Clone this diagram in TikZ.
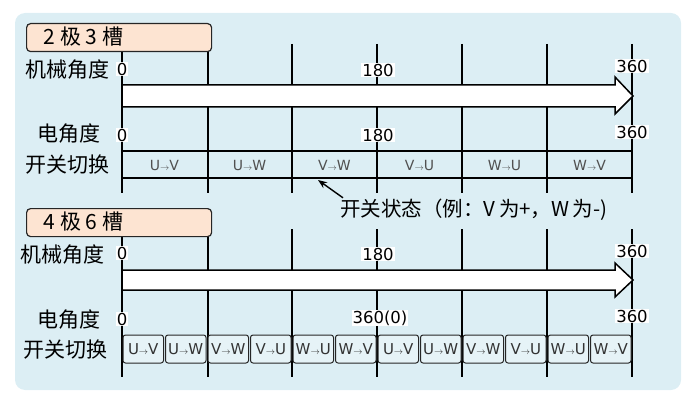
\documentclass[tikz,border=0pt]{standalone}
\usepackage{fontspec}
\setmainfont{DejaVu Sans}
\newfontfamily\cjk{Noto Sans CJK SC}
\usetikzlibrary{arrows.meta}

\definecolor{panelblue}{HTML}{DCEEF4}
\definecolor{tagpeach}{HTML}{FDE4D2}
\definecolor{swgray}{HTML}{505050}

\newcommand{\sw}[2]{#1{\fontsize{9}{9}\selectfont$\rightarrow$}#2}

\begin{document}
\begin{tikzpicture}[x=1pt,y=-1pt,thick,
  rowlabel/.style={font=\cjk\fontsize{21}{21}\selectfont,inner sep=0},
  anglabel/.style={font=\fontsize{16.5}{16.5}\selectfont,fill=white,inner sep=1pt},
  tagbox/.style={draw=black!85,line width=1.2pt,fill=tagpeach,rounded corners=4pt,
    minimum width=185pt,minimum height=28pt,anchor=north west,inner sep=0},
  grid/.style={line width=1.6pt,black},
  swtext/.style={font=\fontsize{14}{14}\selectfont,text=swgray},
  swbox/.style={draw=black!85,line width=1pt,fill=panelblue!70!white,rounded corners=2.5pt,
    minimum width=40.5pt,minimum height=28pt,inner sep=0,font=\fontsize{15}{15}\selectfont,text=black!80}]

\useasboundingbox (0,0) rectangle (699,409);

\fill [panelblue,rounded corners=10pt] (15,13) rectangle (681,390);

% ---- 2 poles, 3 slots ----
\foreach \x in {122,208} \draw [grid] (\x,52) -- (\x,193);
\foreach \x in {292,377,462,547,632} \draw [grid] (\x,44) -- (\x,193);

\node [tagbox] (tagA) at (26,23) {};
\node [font=\cjk\fontsize{21}{21}\selectfont,anchor=west] (tagAtext) at (40,37) {2 极 3 槽};

\draw [line width=1.5pt,fill=white,line join=miter]
  (122,85) -- (615,85) -- (615,77) -- (633,96) -- (615,114) -- (615,107) -- (122,107) -- cycle;

\node [rowlabel,anchor=east] (mechA) at (110,70) {机械角度};
\node [rowlabel,anchor=east] (elecA) at (101,134) {电角度};
\node [rowlabel,anchor=east] (switchA) at (110,165) {开关切换};

\node [anglabel] (mA0) at (122,69) {0};
\node [anglabel] (mA180) at (378,70) {180};
\node [anglabel] (mA360) at (632,66) {360};
\node [anglabel] (eA0) at (122,135) {0};
\node [anglabel] (eA180) at (378,135) {180};
\node [anglabel] (eA360) at (632,132) {360};

\draw [grid] (122,151) -- (632,151);
\draw [grid] (122,178) -- (632,178);

\foreach \a/\b [count=\i] in {U/V,U/W,V/W,V/U,W/U,W/V}
  \node [swtext] (swA\i) at (79.5+85*\i,165) {\sw{\a}{\b}};

\coordinate (noteTip) at (318,180);
\node [font=\cjk\fontsize{20.5}{20.5}\selectfont,anchor=west,inner sep=0] (note) at (340,210)
  {开关状态（例：V\,为+，W\,为-)};
\draw [-{Stealth[length=9pt,width=7pt]},line width=1.4pt] ([xshift=3pt,yshift=1pt]note.north west) -- (noteTip);

% ---- 4 poles, 6 slots ----
\foreach \x in {122,208} \draw [grid] (\x,235) -- (\x,377);
\foreach \x in {292,377,462,547,632} \draw [grid] (\x,229) -- (\x,377);

\node [tagbox] (tagB) at (26,208) {};
\node [font=\cjk\fontsize{21}{21}\selectfont,anchor=west] (tagBtext) at (40,222) {4 极 6 槽};

\draw [line width=1.5pt,fill=white,line join=miter]
  (122,270) -- (615,270) -- (615,263) -- (633,280) -- (615,297) -- (615,290) -- (122,290) -- cycle;

\node [rowlabel,anchor=east] (mechB) at (105,255) {机械角度};
\node [rowlabel,anchor=east] (elecB) at (101,320) {电角度};
\node [rowlabel,anchor=east] (switchB) at (108,350) {开关切换};

\node [anglabel] (mB0) at (122,253) {0};
\node [anglabel] (mB180) at (378,254) {180};
\node [anglabel] (mB360) at (632,251) {360};
\node [anglabel] (eB0) at (122,319) {0};
\node [anglabel] (eB360a) at (380,318) {360(0)};
\node [anglabel] (eB360) at (632,316) {360};

\foreach \a/\b [count=\i] in {U/V,U/W,V/W,V/U,W/U,W/V,U/V,U/W,V/W,V/U,W/U,W/V}
  \node [swbox] (swB\i) at (100.75+42.5*\i,349) {\sw{\a}{\b}};

\end{tikzpicture}
\end{document}
